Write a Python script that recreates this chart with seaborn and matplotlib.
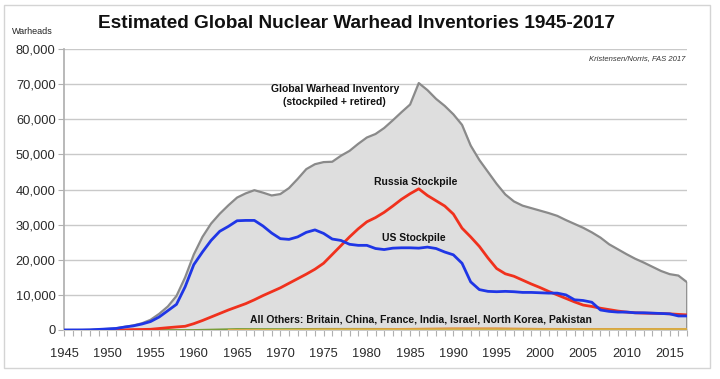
import numpy as np
import pandas as pd
import matplotlib
matplotlib.use("Agg")
import matplotlib.pyplot as plt
import matplotlib.ticker as mticker
from matplotlib.patches import Rectangle
import seaborn as sns

years = list(range(1945, 2018))

global_total = [
    2, 9, 13, 50, 170, 305, 465, 890, 1300, 1900,
    2900, 4600, 6700, 9700, 15000, 21500, 26500, 30300, 33100, 35500,
    37700, 38900, 39800, 39100, 38300, 38700, 40400, 43000, 45800, 47200,
    47800, 47900, 49600, 51000, 53000, 54800, 55800, 57500, 59700, 62000,
    64200, 70300, 68300, 65800, 63800, 61400, 58400, 52500, 48400, 45000,
    41600, 38600, 36600, 35400, 34700, 34000, 33300, 32500, 31300, 30200,
    29100, 27800, 26300, 24400, 23000, 21600, 20300, 19200, 18000, 16800,
    15900, 15500, 13600,
]

us_stockpile = [
    2, 9, 13, 50, 170, 300, 440, 840, 1170, 1700,
    2400, 3700, 5500, 7300, 12300, 18600, 22200, 25500, 28100, 29500,
    31100, 31200, 31200, 29600, 27600, 26000, 25800, 26500, 27800, 28500,
    27500, 25900, 25500, 24400, 24100, 24100, 23200, 22900, 23300, 23400,
    23400, 23300, 23600, 23200, 22200, 21400, 19000, 13700, 11500, 11000,
    10900, 11000, 10900, 10700, 10700, 10600, 10500, 10500, 10000, 8600,
    8400, 7900, 5700, 5300, 5100, 5100, 4900, 4900, 4800, 4700,
    4600, 4000, 4000,
]

russia_years = list(range(1949, 2018))
russia_stockpile = [
    1, 5, 25, 50, 120, 150, 200, 430, 660, 870,
    1060, 1800, 2700, 3700, 4700, 5700, 6600, 7500, 8600, 9800,
    10900, 12000, 13300, 14600, 15900, 17300, 19000, 21500, 24000, 26500,
    28800, 30800, 32000, 33500, 35300, 37200, 38800, 40200, 38300, 36800,
    35300, 33000, 29000, 26500, 23800, 20500, 17500, 16000, 15300, 14200,
    13100, 12100, 11000, 10000, 9000, 8000, 7100, 6700, 6200, 5800,
    5400, 5100, 4900, 4800, 4750, 4700, 4600, 4450, 4300,
]

# small "all others" lines (sparse readings)
britain_years = [1953, 1955, 1960, 1965, 1970, 1975, 1980, 1990, 2000, 2010, 2017]
britain = [1, 10, 30, 310, 280, 350, 350, 300, 280, 225, 215]
france_years = [1964, 1970, 1975, 1980, 1985, 1990, 1995, 2000, 2010, 2017]
france = [4, 36, 190, 250, 360, 505, 500, 350, 300, 300]
china_years = [1964, 1970, 1975, 1980, 1990, 2000, 2010, 2017]
china = [1, 75, 185, 205, 232, 232, 240, 270]

y_ticks = [0, 10000, 20000, 30000, 40000, 50000, 60000, 70000, 80000]
x_ticks = list(range(1945, 2020, 5))

sns.set_theme(style="white")
plt.rcParams["font.family"] = ["Liberation Sans", "DejaVu Sans"]

fig = plt.figure(figsize=(7.2, 3.79), dpi=100)
ax = fig.add_axes([64 / 720, 49 / 379, 623 / 720, 281 / 379])

df_g = pd.DataFrame({"year": years, "n": global_total})
ax.fill_between(df_g["year"], 0, df_g["n"], color="#dedede", zorder=1)
ax.vlines(2017, 0, global_total[-1], color="#8a8a8a", linewidth=1.3, zorder=2)

sns.lineplot(x=britain_years, y=britain, ax=ax, color="#7a9e3a", linewidth=1.2, zorder=3)
sns.lineplot(x=france_years, y=france, ax=ax, color="#e08a3a", linewidth=1.2, zorder=3)
sns.lineplot(x=china_years, y=china, ax=ax, color="#d9b84a", linewidth=1.0, zorder=3)

sns.lineplot(data=df_g, x="year", y="n", ax=ax, color="#8a8a8a", linewidth=1.6, zorder=4)
sns.lineplot(x=russia_years, y=russia_stockpile, ax=ax, color="#f0311d", linewidth=2.0, zorder=5)
sns.lineplot(x=years, y=us_stockpile, ax=ax, color="#1f36e6", linewidth=2.0, zorder=6)

ax.set_xlim(1945, 2017)
ax.set_ylim(0, 80000)
ax.set_yticks(y_ticks)
ax.set_xticks(x_ticks)
ax.xaxis.set_minor_locator(mticker.MultipleLocator(1))
ax.yaxis.set_major_formatter(mticker.FuncFormatter(lambda v, p: f"{int(v):,}"))
ax.grid(axis="y", color="#c9c9c9", linewidth=1.0, zorder=0)
ax.set_axisbelow(True)
ax.set_xlabel("")
ax.set_ylabel("")
for s in ["top", "right"]:
    ax.spines[s].set_visible(False)
ax.spines["left"].set_color("#b0b0b0")
ax.spines["bottom"].set_color("#c9c9c9")
ax.tick_params(axis="y", labelsize=9.3, colors="#b0b0b0", labelcolor="#2a2a2a",
               length=4, width=0.8, left=True, pad=2)
ax.tick_params(axis="x", which="both", labelsize=9.3, colors="#b0b0b0", labelcolor="#2a2a2a",
               length=4, width=0.8, bottom=True, pad=9)

fig.text(0.495, 1 - 24 / 379, "Estimated Global Nuclear Warhead Inventories 1945-2017",
         ha="center", va="center", fontsize=13.7, fontweight="bold", color="#111111")
fig.text(12 / 720, 1 - 32 / 379, "Warheads", fontsize=6.5, ha="left", va="center", color="#222222")
fig.text(685 / 720, 1 - 59 / 379, "Kristensen/Norris, FAS 2017", fontsize=5.5, style="italic",
         ha="right", va="center", color="#333333")

ax.text(1976.3, 66800, "Global Warhead Inventory\n(stockpiled + retired)", ha="center", va="center",
        fontsize=7.5, fontweight="bold", color="#111111", linespacing=1.3)
ax.text(1985.6, 42000, "Russia Stockpile", ha="center", va="center",
        fontsize=7.5, fontweight="bold", color="#111111")
ax.text(1981.8, 26200, "US Stockpile", ha="left", va="center",
        fontsize=7.5, fontweight="bold", color="#111111")
ax.text(1966.5, 3100, "All Others: Britain, China, France, India, Israel, North Korea, Pakistan",
        ha="left", va="center", fontsize=7.5, fontweight="bold", color="#111111")

fig.patches.append(Rectangle((4 / 720, 11 / 379), 706 / 720, 363 / 379, transform=fig.transFigure,
                             fill=False, edgecolor="#d4d4d4", linewidth=1.0))

fig.savefig("out.png", dpi=100)
